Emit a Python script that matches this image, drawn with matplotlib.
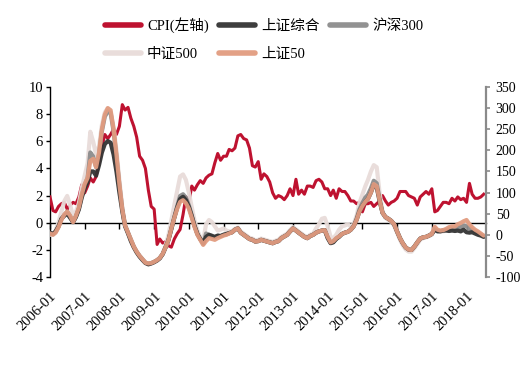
import numpy as np
import pandas as pd
import matplotlib
matplotlib.use("Agg")
import matplotlib.pyplot as plt
import matplotlib.dates as mdates

plt.rcParams['font.family'] = ['Liberation Serif', 'Noto Sans CJK SC']
plt.rcParams['axes.unicode_minus'] = False

# monthly, 2006-01 .. 2018-07
months = pd.date_range('2006-01-01', periods=151, freq='MS')

# CPI YoY (%), left axis
cpi = [1.9, 0.9, 0.8, 1.2, 1.4, 1.5, 1.0, 1.3, 1.5, 1.4, 1.9, 2.8,
       2.2, 2.7, 3.3, 3.0, 3.4, 4.4, 5.6, 6.5, 6.2, 6.5, 6.9, 6.5,
       7.1, 8.7, 8.3, 8.5, 7.7, 7.1, 6.3, 4.9, 4.6, 4.0, 2.4, 1.2,
       1.0, -1.6, -1.2, -1.5, -1.4, -1.7, -1.8, -1.2, -0.8, -0.5, 0.6, 1.9,
       1.5, 2.7, 2.4, 2.8, 3.1, 2.9, 3.3, 3.5, 3.6, 4.4, 5.1, 4.6,
       4.9, 4.9, 5.4, 5.3, 5.5, 6.4, 6.5, 6.2, 6.1, 5.5, 4.2, 4.1,
       4.5, 3.2, 3.6, 3.4, 3.0, 2.2, 1.8, 2.0, 1.9, 1.7, 2.0, 2.5,
       2.0, 3.2, 2.1, 2.4, 2.1, 2.7, 2.7, 2.6, 3.1, 3.2, 3.0, 2.5,
       2.5, 2.0, 2.4, 1.8, 2.5, 2.3, 2.3, 2.0, 1.6, 1.6, 1.4, 1.5,
       0.8, 1.4, 1.4, 1.5, 1.2, 1.4, 1.6, 2.0, 1.6, 1.3, 1.5, 1.6,
       1.8, 2.3, 2.3, 2.3, 2.0, 1.9, 1.8, 1.3, 1.9, 2.1, 2.3, 2.1,
       2.5, 0.8, 0.9, 1.2, 1.5, 1.5, 1.4, 1.8, 1.6, 1.9, 1.7, 1.8,
       1.5, 2.9, 2.1, 1.8, 1.8, 1.9, 2.1]

# index YoY (%), right axis
sz50 = [3, 0, 5, 18, 35, 48, 55, 45, 30, 45, 65, 95,
        120, 135, 175, 180, 160, 195, 250, 285, 300, 295, 250, 190,
        120, 60, 22, 5, -12, -28, -40, -50, -58, -66, -68, -67,
        -64, -60, -55, -45, -30, -12, 15, 40, 62, 78, 82, 75,
        62, 40, 19, 0, -12, -24, -15, -8, -10, -12, -8, -5,
        -2, 0, 3, 6, 12, 15, 5, 0, -5, -10, -12, -16,
        -15, -12, -14, -16, -18, -20, -17, -15, -8, -4, 0, 8,
        15, 10, 5, 0, -5, -8, -3, 0, 5, 8, 10, 11,
        -5, -18, -15, -8, -4, 2, 5, 7, 12, 20, 35, 55,
        68, 78, 85, 100, 120, 115, 82, 52, 42, 38, 33, 25,
        8, -8, -20, -30, -35, -36, -28, -18, -9, -6, -5, -2,
        2, 19, 12, 10, 11, 14, 18, 20, 20, 25, 28, 32,
        35, 25, 18, 12, 8, 3, -2]

sh_comp = [5, 2, 8, 20, 38, 45, 50, 40, 30, 42, 60, 88,
           110, 125, 150, 150, 140, 165, 195, 215, 222, 218, 190, 150,
           100, 55, 20, 3, -15, -30, -42, -52, -60, -67, -70, -68,
           -65, -61, -56, -46, -30, -12, 14, 40, 65, 85, 90, 82,
           66, 44, 22, 2, -10, -20, -5, 0, -3, -5, -2, -3,
           0, 2, 4, 6, 12, 15, 5, 0, -5, -10, -12, -16,
           -15, -12, -14, -16, -18, -20, -17, -15, -8, -4, 0, 8,
           15, 10, 5, 0, -5, -8, -3, 0, 5, 8, 10, 11,
           -8, -20, -18, -10, -5, 2, 5, 7, 12, 20, 35, 55,
           68, 78, 85, 100, 118, 112, 80, 52, 42, 38, 33, 25,
           8, -8, -20, -30, -35, -36, -28, -18, -9, -6, -5, -2,
           2, 12, 8, 8, 10, 10, 9, 10, 9, 10, 8, 12,
           6, 5, 6, 3, 0, -2, -5]

hs300 = [4, 1, 7, 20, 37, 47, 55, 44, 30, 44, 63, 92,
         118, 135, 195, 185, 160, 190, 245, 280, 292, 288, 245, 185,
         118, 60, 22, 5, -12, -28, -40, -50, -58, -66, -68, -67,
         -64, -60, -55, -45, -30, -12, 15, 42, 68, 92, 96, 88,
         70, 46, 22, 2, -10, -22, 3, 0, -2, -6, -2, -3,
         0, 1, 4, 6, 12, 15, 5, 0, -5, -10, -12, -16,
         -15, -12, -14, -16, -18, -20, -17, -15, -8, -4, 0, 8,
         15, 10, 5, 0, -5, -8, -3, 0, 5, 8, 10, 11,
         -6, -19, -16, -9, -4, 2, 5, 7, 12, 20, 38, 60,
         75, 88, 95, 110, 128, 122, 85, 52, 42, 38, 33, 25,
         8, -8, -20, -30, -35, -36, -28, -18, -9, -6, -5, -2,
         2, 15, 10, 9, 10, 12, 14, 15, 15, 18, 18, 22,
         20, 15, 12, 8, 4, 1, -3]

zz500 = [0, 0, 10, 30, 55, 80, 92, 70, 45, 55, 75, 110,
         140, 170, 244, 220, 190, 210, 260, 290, 300, 290, 255, 200,
         130, 65, 25, 5, -12, -28, -40, -50, -58, -66, -70, -68,
         -64, -60, -55, -45, -25, 0, 35, 70, 105, 138, 143, 130,
         100, 65, 35, 10, -5, -15, 25, 35, 30, 20, 10, 12,
         15, 10, 8, 8, 14, 17, 8, 3, -2, -7, -9, -13,
         -12, -9, -11, -13, -15, -17, -14, -12, -5, -1, 3, 11,
         18, 13, 8, 3, -2, -5, 0, 3, 15, 25, 38, 40,
         20, -5, -8, 0, 12, 20, 22, 25, 20, 25, 45, 75,
         95, 115, 130, 150, 165, 160, 100, 55, 40, 35, 30, 22,
         5, -12, -25, -35, -40, -40, -32, -22, -12, -8, -6, -3,
         0, 17, 10, 8, 8, 10, 14, 16, 16, 20, 24, 28,
         30, 22, 15, 10, 6, 1, -4]

series_right = [
    ('中证500', zz500, '#e8dcd9'),
    ('沪深300', hs300, '#8c8c8c'),
    ('上证综合', sh_comp, '#333333'),
    ('上证50', sz50, '#e29c80'),
]

year_ticks = pd.date_range('2006-01-01', '2018-01-01', freq='YS')

fig = plt.figure(figsize=(5.31, 3.71), dpi=100)
ax = fig.add_axes([50 / 531, 94 / 371, 436 / 531, 190 / 371])
ax2 = ax.twinx()
ax.set_zorder(1)
ax2.set_zorder(2)
ax.patch.set_visible(False)
ax2.patch.set_visible(False)

l_cpi, = ax.plot(months, cpi, color='#be1230', lw=2.2, label='CPI(左轴)', zorder=3)
handles = {}
for name, vals, col in series_right:
    h, = ax2.plot(months, vals, color=col, lw=3.0, label=name, alpha=0.95,
                  solid_capstyle='round', solid_joinstyle='round')
    handles[name] = h

ax.set_ylim(-4, 10)
ax.set_yticks(np.arange(-4, 11, 2))
ax2.set_ylim(-100, 350)
ax2.set_yticks(np.arange(-100, 351, 50))

xmin = pd.Timestamp('2006-01-01')
xmax = pd.Timestamp('2018-07-25')
ax.set_xlim(xmin, xmax)

for s in ['top', 'right', 'bottom']:
    ax.spines[s].set_visible(False)
for s in ['top', 'left', 'bottom']:
    ax2.spines[s].set_visible(False)
ax.spines['left'].set_linewidth(1.0)
ax2.spines['right'].set_color('#8a8a8a')
ax2.spines['right'].set_linewidth(1.6)

ax.tick_params(axis='y', direction='out', length=3, width=1, pad=2, labelsize=10.5)
ax2.tick_params(axis='y', direction='out', length=3, width=1.2, color='#8a8a8a',
                pad=4, labelsize=10)

# date labels at the bottom, tick marks on the zero line
ax.set_xticks(year_ticks)
ax.xaxis.set_major_formatter(mdates.DateFormatter('%Y-%m'))
ax.tick_params(axis='x', length=0, pad=9, labelsize=10.5)
for lab in ax.get_xticklabels():
    lab.set_rotation(45)
    lab.set_ha('right')
    lab.set_rotation_mode('anchor')
ax2.tick_params(axis='x', length=0, labelbottom=False)

zero_ax = ax.secondary_xaxis(4 / 14)
zero_ax.set_xticks(year_ticks)
zero_ax.tick_params(axis='x', direction='out', length=4, width=1, labelbottom=False)
zero_ax.spines['bottom'].set_linewidth(1.0)

legend_order = [l_cpi, handles['中证500'], handles['上证综合'], handles['上证50'], handles['沪深300']]
leg = fig.legend(handles=legend_order, labels=[h.get_label() for h in legend_order],
                 ncol=3, loc='center', bbox_to_anchor=(264 / 531, 1 - 39 / 371),
                 frameon=False, fontsize=10.5, handlelength=2.5, handletextpad=0.4,
                 columnspacing=0.7, labelspacing=1.0)
for lh in leg.get_lines():
    lh.set_linewidth(4)
    lh.set_solid_capstyle('round')

fig.savefig('out.png', dpi=100, facecolor='white')
